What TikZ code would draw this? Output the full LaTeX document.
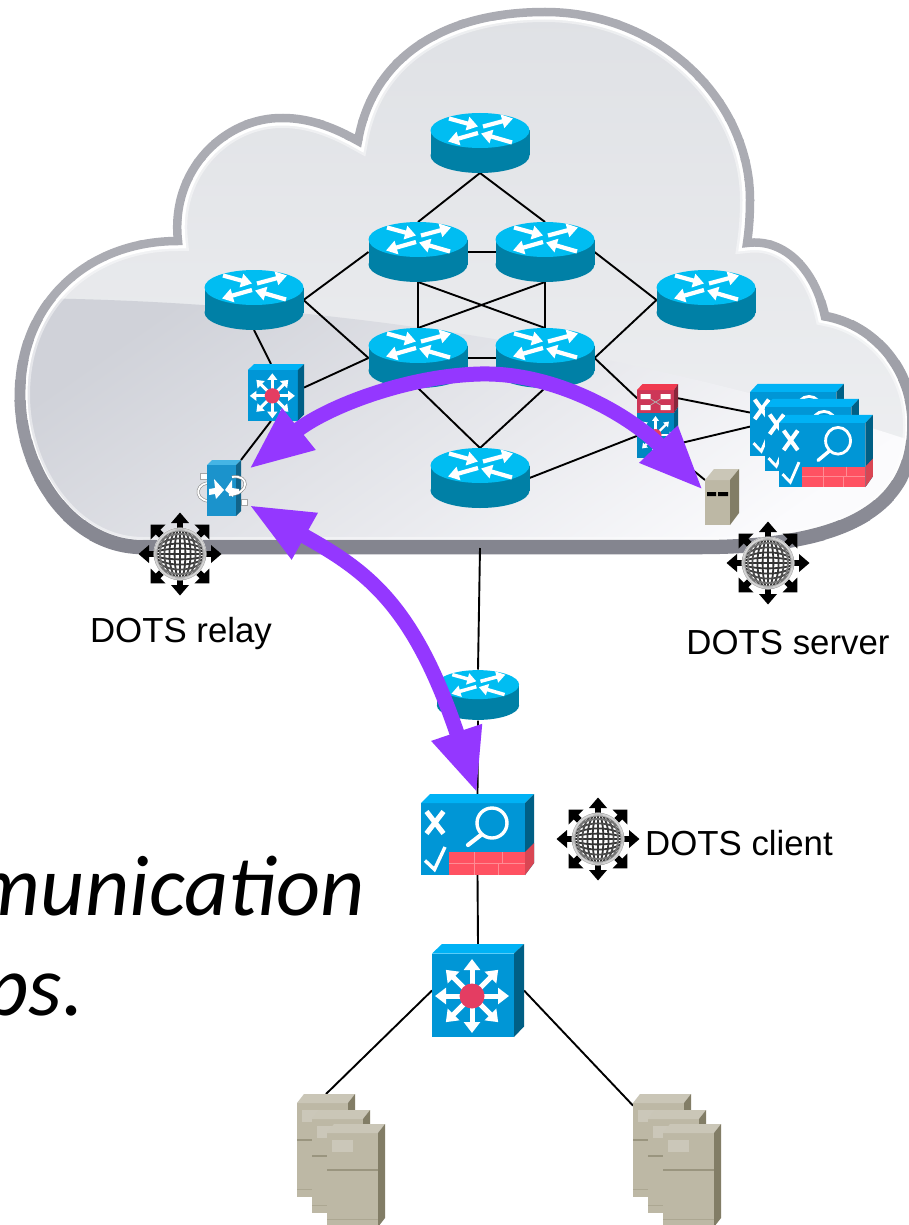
\documentclass[tikz,border=0pt]{standalone}
\usepackage{fontspec}
\setmainfont{Liberation Sans}
\newfontfamily\carlitofont{Carlito}
\usetikzlibrary{arrows.meta}
\definecolor{rtop}{HTML}{00BDF2}
\definecolor{rbody}{HTML}{0080A6}
\definecolor{bfront}{HTML}{0096D6}
\definecolor{btop}{HTML}{00B2F5}
\definecolor{bside}{HTML}{005F85}
\definecolor{brick}{HTML}{FF5262}
\definecolor{brickline}{HTML}{FF8C94}
\definecolor{hub}{HTML}{E43D62}
\definecolor{sfront}{HTML}{BDB8A5}
\definecolor{stopc}{HTML}{CAC6B7}
\definecolor{sside}{HTML}{827D66}
\definecolor{sline}{HTML}{9A957F}
\definecolor{spanel}{HTML}{CBC7B9}
\definecolor{purplearrow}{HTML}{9437FF}
\definecolor{bandtop}{HTML}{ABACB3}
\definecolor{bandbot}{HTML}{84858F}
\definecolor{cloudA}{HTML}{DFE1E5}
\definecolor{cloudB}{HTML}{F0F1F3}
\definecolor{glossA}{HTML}{D0D2D9}
\definecolor{glossB}{HTML}{FBFBFD}
\definecolor{relayfront}{HTML}{1B93CC}
\definecolor{relaytop}{HTML}{45B5E5}
\definecolor{relayside}{HTML}{11648A}
\tikzset{
  spot/.style={rectangle,inner sep=0pt,outer sep=0pt},
  link/.style={draw=black,line width=1.9pt},
  dotsarrow/.style={draw=purplearrow,line width=15pt,
    {Triangle[length=64pt,width=49pt]}-{Triangle[length=64pt,width=49pt]}},
  label/.style={inner sep=0pt,font=\fontsize{34.8}{40}\selectfont,text=black},
  slide/.style={inner sep=0pt,font=\carlitofont\itshape\fontsize{86}{90}\selectfont,text=black}
}
\newcommand{\cloudpath}{(143,547) .. controls (70,547) and (20,470) .. (20,395)
  .. controls (20,300) and (90,241) .. (178,241)
  .. controls (170,170) and (225,117) .. (283,118)
  .. controls (310,118) and (335,128) .. (358,141)
  .. controls (372,60) and (440,12) .. (545,12)
  .. controls (660,12) and (750,100) .. (750,200)
  .. controls (750,215) and (749,230) .. (747,243)
  .. controls (785,238) and (815,270) .. (825,316)
  .. controls (875,325) and (913,370) .. (913,425)
  .. controls (913,500) and (860,547) .. (700,547) -- cycle}
\newcommand{\flatarrow}[5]{%
  \draw[white,line width=#5*4.2pt,-{Triangle[length=0pt 2.6,width=0pt 3.2]}] (#1,#2) -- (#3,#4);}
\newcommand{\routericon}[3]{%
  \begin{scope}[shift={(#1,#2)},scale=#3]
    \fill[rbody] (-49.5,-12.5) rectangle (49.5,12.5);
    \fill[rbody] (0,12.5) ellipse [x radius=49.5,y radius=17.5];
    \fill[rtop] (0,-12.5) ellipse [x radius=49.5,y radius=17.5];
    \begin{scope}[shift={(0,-12.5)}]
      \flatarrow{-31}{-12}{-2}{-4}{#3}
      \flatarrow{3}{-4}{33}{-12}{#3}
      \flatarrow{-2}{2.5}{-32}{11}{#3}
      \flatarrow{32}{12}{1}{3}{#3}
    \end{scope}
  \end{scope}}
\newcommand{\switchicon}[3]{%
  \begin{scope}[shift={(#1,#2)},scale=#3]
    \fill[bfront] (-46,-37) rectangle (36,46.5);
    \fill[btop] (-46,-37) -- (-36,-46.5) -- (46,-46.5) -- (36,-37) -- cycle;
    \fill[bside] (36,-37) -- (46,-46.5) -- (46,36) -- (36,46.5) -- cycle;
    \foreach \a in {0,45,...,315}
      \draw[white,line width=#3*5pt,-{Triangle[length=0pt 2.2,width=0pt 3.2]}] (-6,5.5) -- ++(\a:37);
    \fill[hub] (-6,5.5) circle [radius=12.5];
  \end{scope}}
\newcommand{\firewallicon}[4]{%
  \begin{scope}[shift={(#1,#2)},xscale=#3,yscale=#4]
    \fill[bfront] (-56.5,-31.5) rectangle (47.5,40.5);
    \fill[btop] (-56.5,-31.5) -- (-47.5,-40.5) -- (56.5,-40.5) -- (47.5,-31.5) -- cycle;
    \fill[bside] (47.5,-31.5) -- (56.5,-40.5) -- (56.5,28.5) -- (47.5,40.5) -- cycle;
    \fill[brick] (-28.5,17.5) rectangle (47.5,40.5);
    \fill[brick!85!black] (47.5,17.5) -- (56.5,8.5) -- (56.5,28.5) -- (47.5,40.5) -- cycle;
    \draw[brickline,line width=#3*0.8pt] (-28.5,29) -- (47.5,29)
      (-3,17.5) -- (-3,29) (25,17.5) -- (25,29) (-3.5,29) -- (-3.5,40.5) (21,29) -- (21,40.5);
    \draw[white,line width=#3*3.4pt] (14.5,-11.5) circle [radius=15];
    \draw[white,line width=#3*4.2pt,line cap=round] (4,0) -- (-9.5,10.5);
    \draw[white,line width=#3*5pt] (-51,-23) -- (-34,-1) (-34,-23) -- (-51,-1);
    \draw[white,line width=#3*3.4pt] (-52.5,26) -- (-43,35) -- (-32.5,12.5);
  \end{scope}}
\newcommand{\servertall}[2]{%
  \begin{scope}[shift={(#1,#2)}]
    \fill[sfront] (0,9) rectangle (51,103);
    \fill[stopc] (0,9) -- (7,0) -- (58,0) -- (51,9) -- cycle;
    \fill[sside] (51,9) -- (58,0) -- (58,94) -- (51,103) -- cycle;
    \fill[spanel] (5,16) rectangle (26,28);
    \fill[sline] (0,45) rectangle (51,46.5);
    \fill[sline!50!sfront] (0,95) rectangle (51,96);
  \end{scope}}
\newcommand{\globeicon}[2]{%
  \begin{scope}[shift={(#1,#2)}]
    \foreach \a in {0,90,180,270} {
      \begin{scope}[rotate=\a]
        \fill[black] (24,-3.2) rectangle (33,3.2);
        \fill[black] (41.5,0) -- (31,-9) -- (31,9) -- cycle;
      \end{scope}}
    \foreach \a in {45,135,225,315} {
      \begin{scope}[rotate=\a]
        \fill[black] (24,-3.2) rectangle (33,3.2);
        \fill[black] (41.5,0) -- (31,-10.5) -- (31,10.5) -- cycle;
      \end{scope}}
    \fill[white] (0,0) circle [radius=26.5];
    \begin{scope}
      \clip (0,0) circle [radius=26];
      \draw[black!80,line width=1.8pt] (-26,0) -- (26,0) (0,-26) -- (0,26);
      \foreach \r/\c in {5.4/80,10.6/78,15.6/70,20/55,23.6/35} {
        \draw[black!\c,line width=1.8pt] (0,0) ellipse [x radius=26,y radius=\r];
        \draw[black!\c,line width=1.8pt] (0,0) ellipse [x radius=\r,y radius=26];
      }
      \draw[white,opacity=.55,line width=3pt] (0,0) circle [radius=25.5];
    \end{scope}
    \draw[black!30,line width=.5pt] (0,0) circle [radius=26];
  \end{scope}}
\begin{document}
\begin{tikzpicture}[x=1pt,y=-1pt]
\useasboundingbox (0,0) rectangle (909,1225);
\fill[white] (0,0) rectangle (909,1225);

% cloud
\shade[top color=cloudA,bottom color=cloudB] \cloudpath;
\begin{scope}
  \clip \cloudpath;
  \shade[top color=glossA,bottom color=glossB,shading angle=35]
    (0,298) .. controls (300,298) and (620,345) .. (909,440) -- (909,560) -- (0,560) -- cycle;
\end{scope}
\draw[white,opacity=.45,line width=20pt] \cloudpath;
\draw[white,line width=15pt] \cloudpath;
\foreach \i in {0,...,28} {
  \pgfmathsetmacro{\yy}{\i*20}
  \pgfmathsetmacro{\mm}{min(100,max(0,(\yy-280)/2.6))}
  \colorlet{bandc}{bandbot!\mm!bandtop}
  \begin{scope}
    \clip (-5,\yy) rectangle (920,\yy+20.5);
    \draw[draw=bandc,line width=8.5pt+\mm/100*6pt] \cloudpath;
  \end{scope}
}

% named places
\node[spot,minimum width=99pt,minimum height=60pt] (r1) at (480,143) {};
\node[spot,minimum width=99pt,minimum height=60pt] (r2) at (418,252) {};
\node[spot,minimum width=99pt,minimum height=60pt] (r3) at (545,252) {};
\node[spot,minimum width=99pt,minimum height=60pt] (rl) at (254,300) {};
\node[spot,minimum width=99pt,minimum height=60pt] (rr) at (706,300) {};
\node[spot,minimum width=99pt,minimum height=60pt] (r4) at (418,358) {};
\node[spot,minimum width=99pt,minimum height=60pt] (r5) at (545,358) {};
\node[spot,minimum width=99pt,minimum height=60pt] (r6) at (480,478) {};
\node[spot,minimum width=82pt,minimum height=51pt] (r7) at (478,695) {};
\node[spot,minimum width=56pt,minimum height=57pt] (sw1) at (276,392.5) {};
\node[spot,minimum width=92pt,minimum height=93pt] (sw2) at (478,990.5) {};
\node[spot,minimum width=34pt,minimum height=56pt] (relay) at (224,488) {};
\node[spot,minimum width=41pt,minimum height=74pt] (redsw) at (657.5,421) {};
\node[spot,minimum width=94pt,minimum height=72pt] (fw1) at (797,420) {};
\node[spot,minimum width=113pt,minimum height=81pt] (fwc) at (477.5,834.5) {};
\node[spot,minimum width=34pt,minimum height=56pt] (srv) at (722,497) {};
\node[spot,minimum width=58pt,minimum height=103pt] (sa) at (326,1145.5) {};
\node[spot,minimum width=58pt,minimum height=103pt] (sb) at (662,1145.5) {};
\coordinate (exit) at (480,548);
\coordinate (relaytipa) at (249,469);
\coordinate (srvtip) at (703,490);
\coordinate (arcpeak) at (480,374);
\coordinate (relaytipb) at (249,505);
\coordinate (fwtip) at (477,793);

% links
\draw[link] (r1.south) -- (r2.north);
\draw[link] (r1.south) -- (r3.north);
\draw[link] (r2.east) -- (r3.west);
\draw[link] (r2.south) -- (r4.north);
\draw[link] (r2.south) -- (r5.north);
\draw[link] (r3.south) -- (r4.north);
\draw[link] (r3.south) -- (r5.north);
\draw[link] (r4.east) -- (r5.west);
\draw[link] (r2.west) -- (rl.east);
\draw[link] (rl.east) -- (r4.west);
\draw[link] (r3.east) -- (rr.west);
\draw[link] (rr.west) -- (r5.east);
\draw[link] (r4.south) -- (r6.north);
\draw[link] (r5.south) -- (r6.north);
\draw[link] (rl.south) -- (sw1.100);
\draw[link] (sw1.10) -- (r4.west);
\draw[link] (sw1.260) -- (relay.north east);
\draw[link] (r5.east) -- (redsw.132);
\draw[link] (r6.east) -- (redsw.216);
\draw[link] (redsw.48) -- (fw1.171.5);
\draw[link] (redsw.312) -- (fw1.188.5);
\draw[link] (redsw.south east) -- (srv.135);
\draw[link] (exit) -- (r7.north);
\draw[link] (r7.south) -- (fwc.north);
\draw[link] (fwc.south) -- (sw2.north);
\draw[link] (sw2.west) -- (sa.north);
\draw[link] (sw2.east) -- (sb.126);

% routers
\routericon{480}{143}{1}
\routericon{418}{252}{1}
\routericon{545}{252}{1}
\routericon{254}{300}{1}
\routericon{706}{300}{1}
\routericon{418}{358}{1}
\routericon{545}{358}{1}
\routericon{480}{478}{1}
\routericon{478}{695}{.83}

% switches
\switchicon{276}{392.5}{.61}
\switchicon{478}{990.5}{1}

% red and teal device
\begin{scope}[shift={(657.5,421)}]
  \fill[hub!90!black] (-20.5,-31) rectangle (16.5,-8);
  \fill[hub!60!red!90!white] (-20.5,-31) -- (-15,-37) -- (20.5,-37) -- (16.5,-31) -- cycle;
  \fill[hub!60!black] (16.5,-31) -- (20.5,-37) -- (20.5,-14) -- (16.5,-8) -- cycle;
  \fill[bfront!90!black] (-20.5,-8) rectangle (16.5,37);
  \fill[bside] (16.5,-8) -- (20.5,-14) -- (20.5,33) -- (16.5,37) -- cycle;
  \fill[white] (-17,-27) rectangle (-7,-22) (3,-27) rectangle (13,-22)
    (-17,-16) rectangle (-7,-11) (3,-16) rectangle (13,-11);
  \draw[black!30,line width=.7pt] (-7,-22) -- (3,-16) (3,-22) -- (-7,-16);
  \foreach \a in {0,45,...,315}
    \draw[white,line width=2.2pt,-{Triangle[length=0pt 2.2,width=0pt 3]}] (-2,14) -- ++(\a:19);
  \fill[hub] (-2,14) circle [radius=6];
\end{scope}

% firewalls
\firewallicon{797}{420}{.83}{.89}
\firewallicon{812}{435}{.83}{.89}
\firewallicon{826}{451}{.83}{.89}
\firewallicon{477.5}{834.5}{1}{1}

% server in the cloud
\begin{scope}[shift={(705,469)}]
  \fill[sfront] (0,11) rectangle (25,56);
  \fill[stopc] (0,11) -- (9,0) -- (34,0) -- (25,11) -- cycle;
  \fill[sside] (25,11) -- (34,0) -- (34,44) -- (25,56) -- cycle;
  \fill[black] (2,23) rectangle (11,27) (13,23) rectangle (23,27);
\end{scope}

% relay box
\begin{scope}[shift={(224,488)}]
  \fill[white] (-24,-15) rectangle (-17,-9);
  \draw[black!35,line width=.7pt] (-24,-15) rectangle (-17,-9);
  \fill[white] (17,11) rectangle (23,17);
  \draw[black!35,line width=.7pt] (17,11) rectangle (23,17);
  \draw[black!45,line width=3pt] (-17,-5) .. controls (-30,-3) and (-30,16) .. (-8,13);
  \draw[white,line width=1.8pt] (-17,-5) .. controls (-30,-3) and (-30,16) .. (-8,13);
  \fill[relaytop] (-17,-23) -- (-12,-28) -- (17,-28) -- (12,-23) -- cycle;
  \fill[relayfront] (-17,-23) rectangle (12,28);
  \fill[relayside] (12,-23) -- (17,-28) -- (17,23) -- (12,28) -- cycle;
  \draw[black!45,line width=3pt] (8,-11) .. controls (26,-14) and (26,6) .. (5,7);
  \draw[white,line width=1.8pt] (8,-11) .. controls (26,-14) and (26,6) .. (5,7);
  \fill[white] (-15,1) -- (-9,0) -- (-10,-9) -- (0,2) -- (-8,11) -- (-9,6) -- (-15,7) -- cycle;
  \fill[white] (15,1) -- (8,0) -- (8,-8) -- (1,2) -- (9,9) -- (9,6) -- (15,6) -- cycle;
\end{scope}

% server stacks
\servertall{297}{1094}
\servertall{312}{1110}
\servertall{327}{1124}
\servertall{633}{1094}
\servertall{648}{1110}
\servertall{663}{1124}

% globes
\globeicon{180}{554}
\globeicon{768}{563}
\globeicon{598}{839}

% labels
\node[label,anchor=base] (lrelay) at (181,642) {DOTS relay};
\node[label,anchor=base] (lserver) at (788,654) {DOTS server};
\node[label,anchor=base west] (lclient) at (645,855) {DOTS client};
\node[slide,anchor=base east] (t1) at (365,915) {munication};
\node[slide,anchor=base east] (t2) at (84,1015) {ps.};

% DOTS signal paths
\draw[dotsarrow] (relaytipa) .. controls (325,408) and (405,376) .. (arcpeak)
  .. controls (560,372) and (635,420) .. (srvtip);
\draw[dotsarrow] (relaytipb) .. controls (365,570) and (413,602) .. (fwtip);
\end{tikzpicture}
\end{document}
